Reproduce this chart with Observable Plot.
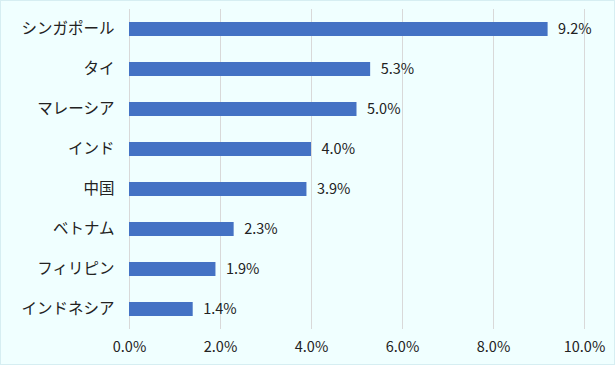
<!DOCTYPE html>
<html>
<head>
<meta charset="utf-8">
<script src="https://cdn.jsdelivr.net/npm/d3@7"></script>
<script src="https://cdn.jsdelivr.net/npm/@observablehq/plot@0.6"></script>
<style>
  html, body { margin: 0; padding: 0; }
  body { width: 615px; height: 365px; background: #f0ffff; overflow: hidden; }
  #chart { width: 613px; height: 363px; border: 1px solid #d6eef2; background: #f0ffff; }
  svg { display: block; }
  svg [aria-label="y-axis tick label"] text { font-size: 15.5px; }
</style>
</head>
<body>
<div id="chart"></div>
<script>
const countries = ["シンガポール", "タイ", "マレーシア", "インド", "中国", "ベトナム", "フィリピン", "インドネシア"];
const values = [9.2, 5.3, 5.0, 4.0, 3.9, 2.3, 1.9, 1.4];
const valueLabels = ["9.2%", "5.3%", "5.0%", "4.0%", "3.9%", "2.3%", "1.9%", "1.4%"];
const xTicks = [0, 2, 4, 6, 8, 10];

const data = countries.map((c, i) => ({country: c, value: values[i], label: valueLabels[i]}));

const chart = Plot.plot({
  width: 613,
  height: 363,
  marginTop: 8,
  marginBottom: 35,
  marginLeft: 128,
  marginRight: 30,
  style: {background: "#f0ffff", fontFamily: "'Noto Sans CJK JP', 'Noto Sans', sans-serif", fontSize: "14.5px", color: "#222"},
  x: {domain: [0, 10], ticks: xTicks, tickFormat: d => d.toFixed(1) + "%", label: null, tickSize: 0, tickPadding: 12},
  y: {domain: countries, label: null, tickSize: 0, tickPadding: 15, paddingInner: 0.65, paddingOuter: 0.325},
  marks: [
    Plot.gridX(xTicks, {stroke: "#d9d9d9", strokeOpacity: 1, strokeWidth: 1}),
    Plot.barX(data, {x: "value", y: "country", fill: "#4472c4"}),
    Plot.text(data, {x: "value", y: "country", text: "label", textAnchor: "start", dx: 10, fill: "#222", fontSize: 14.5})
  ]
});
document.getElementById("chart").appendChild(chart);
</script>
</body>
</html>
